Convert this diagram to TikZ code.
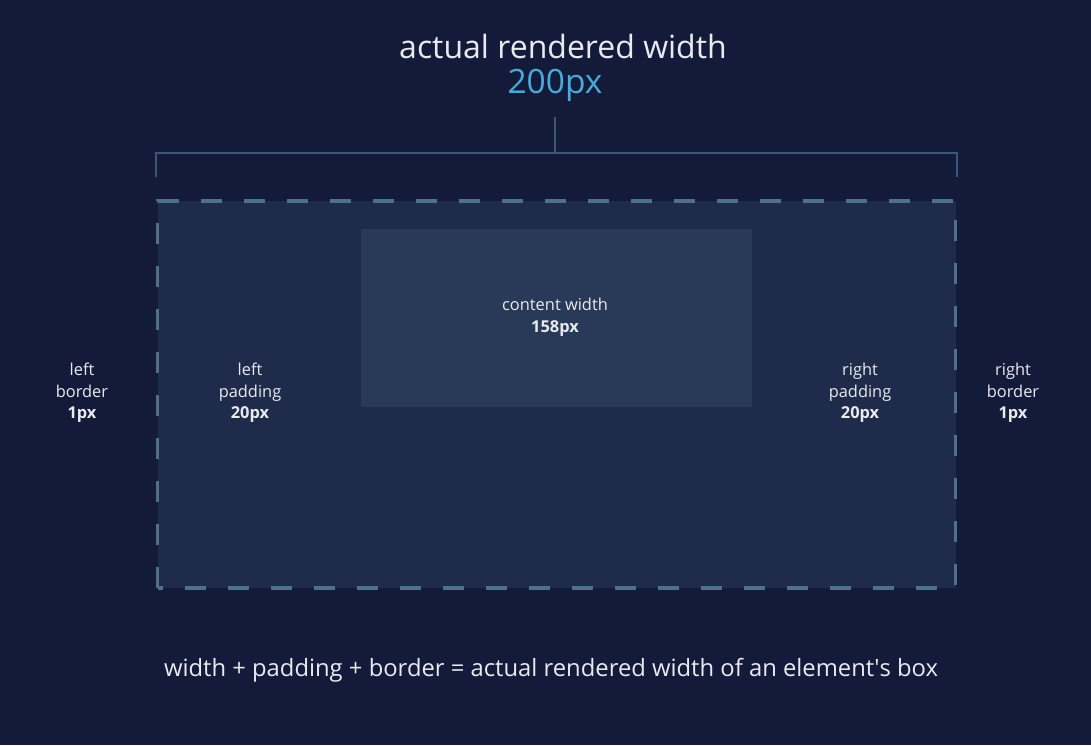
\documentclass[tikz,border=0pt]{standalone}
\usepackage{fontspec}
\setmainfont{Open Sans}
\definecolor{bgnavy}{HTML}{141B3A}
\definecolor{padfill}{HTML}{1F2B4A}
\definecolor{contentfill}{HTML}{283A57}
\definecolor{dashcol}{HTML}{4E7189}
\definecolor{bracketcol}{HTML}{3E5676}
\definecolor{labelwhite}{HTML}{E8EAF0}
\definecolor{pxblue}{HTML}{4AA9DA}
\begin{document}
\begin{tikzpicture}[x=1pt,y=-1pt,
    lbl/.style={text=labelwhite, align=center, font=\fontsize{16.4}{21.5}\selectfont},
    big/.style={text=labelwhite, font=\fontsize{32}{38}\selectfont}]
    \fill[bgnavy] (0,0) rectangle (1091,745);
    \useasboundingbox (0,0) rectangle (1091,745);
    % box model
    \fill[padfill] (157.5,201) rectangle (955.5,588);
    \fill[contentfill] (361,229) rectangle (752,407);
    \draw[dashcol, line width=3.6pt, dash pattern=on 21pt off 22pt] (157.5,588) -- (157.5,201) -- (955.5,201) -- (955.5,588) -- cycle;
    % heading and bracket
    \node[big] (title) at (563,46) {actual rendered width};
    \node[big, text=pxblue, font=\fontsize{33.5}{38}\selectfont] (total) at (555,85) {200px};
    \coordinate (stemtop) at (555,117);
    \coordinate (stembot) at (555,153);
    \coordinate (bl) at (156,177);
    \coordinate (br) at (957,177);
    \draw[bracketcol, line width=1.3pt] (bl) |- (stembot) -| (br);
    \draw[bracketcol, line width=1.3pt] (stemtop) -- (stembot);
    % labels
    \node[lbl] (lborder) at (82,393) {left\\border\\\textbf{1px}};
    \node[lbl] (lpad) at (250,393) {left\\padding\\\textbf{20px}};
    \node[lbl] (content) at (555,317) {content width\\\textbf{158px}};
    \node[lbl] (rpad) at (860,393) {right\\padding\\\textbf{20px}};
    \node[lbl] (rborder) at (1013,393) {right\\border\\\textbf{1px}};
    \node[text=labelwhite, font=\fontsize{23.8}{28}\selectfont] (sum) at (551,670) {width + padding + border = actual rendered width of an element\textquotesingle s box};
\end{tikzpicture}
\end{document}
